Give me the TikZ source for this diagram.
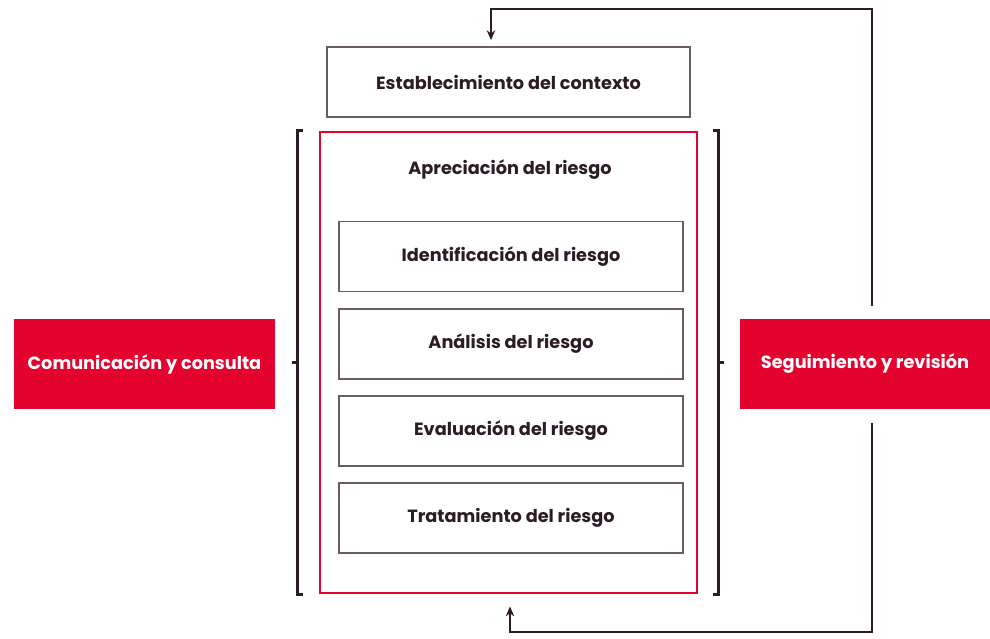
\documentclass[tikz,border=0pt]{standalone}
\usepackage{fontspec}
\setmainfont{Poppins}
\usetikzlibrary{calc,arrows.meta}
\definecolor{isored}{HTML}{E4032E}
\definecolor{inkdark}{HTML}{2B1D22}
\definecolor{boxline}{HTML}{6A5D62}
\tikzset{
  > = {Stealth[length=7pt, width=6pt]},
  pixel frame/.style = {x=0.025cm, y=-0.025cm},
  plain box/.style = {draw=boxline, line width=1.2pt, text=inkdark, minimum width=8.6cm, minimum height=1.75cm},
  red frame/.style = {draw=isored, line width=2pt, minimum width=9.425cm, minimum height=11.525cm},
  red box/.style = {fill=isored, text=white, minimum height=2.25cm},
  bracket/.style = {draw=inkdark, line width=1.7pt},
  loop line/.style = {draw=inkdark, line width=1.8pt},
}

\begin{document}
\begin{tikzpicture}[pixel frame, font=\bfseries\fontsize{12.6}{15}\selectfont]
  \useasboundingbox (0,0) rectangle (990,638);

  %% define boxes
  \node[plain box, minimum width=9.075cm] (context) at (508.5,82) {Establecimiento del contexto};
  \node[red frame] (assessment) at (508.5,362.5) {};
  \node[text=inkdark] (assessment title) at (510,170) {Apreciación del riesgo};
  \node[plain box] (identification) at (511,256.5) {Identificación del riesgo};
  \node[plain box] (analysis) at (511,344) {Análisis del riesgo};
  \node[plain box] (evaluation) at (511,431) {Evaluación del riesgo};
  \node[plain box] (treatment) at (511,518) {Tratamiento del riesgo};
  \node[red box, minimum width=6.525cm] (communication) at (144.5,364) {Comunicación y consulta};
  \node[red box, minimum width=6.25cm] (monitoring) at (865,364) {Seguimiento y revisión};

  % draw left bracket
  \draw[bracket] ($(assessment.north west)+(-16,0)$) -| ($(assessment.south west)+(-21,0)$) -- ++(5,0);
  \draw[bracket] ($(assessment.west)+(-21,0)$) -- ++(-6,0);

  % draw right bracket
  \draw[bracket] ($(assessment.north east)+(15,0)$) -| ($(assessment.south east)+(20,0)$) -- ++(-5,0);
  \draw[bracket] ($(assessment.east)+(20,0)$) -- ++(6,0);

  % draw feedback loop
  \coordinate (loop top) at (872,9);
  \coordinate (loop bottom) at (872,632);
  \draw[loop line, ->, shorten >=0.15cm] ($(monitoring.north -| loop top)+(0,-13)$) -- (loop top) -| ($(context.north)+(-17.5,0)$);
  \draw[loop line, ->, shorten >=0.3cm] ($(monitoring.south -| loop bottom)+(0,14)$) -- (loop bottom) -| ($(assessment.south)+(1.5,0)$);
\end{tikzpicture}
\end{document}
